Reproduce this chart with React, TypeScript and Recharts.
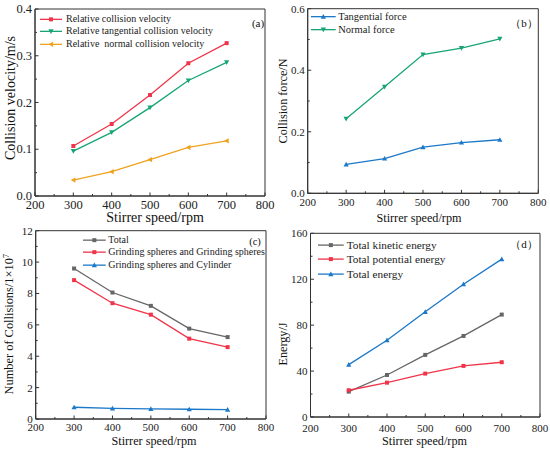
import React from 'react';
import { LineChart, Line, XAxis, YAxis, ReferenceArea, Legend } from 'recharts';

const SPEEDS = [300, 400, 500, 600, 700];
const X_TICKS = [200, 250, 300, 350, 400, 450, 500, 550, 600, 650, 700, 750, 800];
const X_MAJOR = [200, 300, 400, 500, 600, 700, 800];

// (a) collision velocity, m/s
const relVelocity = [0.107, 0.154, 0.216, 0.284, 0.327];
const relTangentialVelocity = [0.096, 0.136, 0.189, 0.247, 0.286];
const relNormalVelocity = [0.034, 0.052, 0.078, 0.104, 0.118];
const A_Y_TICKS = [0, 0.05, 0.1, 0.15, 0.2, 0.25, 0.3, 0.35, 0.4];
const A_Y_MAJOR = [0, 0.1, 0.2, 0.3, 0.4];

// (b) collision force, N
const tangentialForce = [0.094, 0.113, 0.15, 0.165, 0.174];
const normalForce = [0.242, 0.346, 0.451, 0.472, 0.502];
const B_Y_TICKS = [0, 0.1, 0.2, 0.3, 0.4, 0.5, 0.6];
const B_Y_MAJOR = [0, 0.2, 0.4, 0.6];

// (c) number of collisions, x1e7
const totalCollisions = [9.59, 8.06, 7.21, 5.76, 5.22];
const sphereSphere = [8.85, 7.38, 6.65, 5.12, 4.58];
const sphereCylinder = [0.75, 0.68, 0.64, 0.62, 0.6];
const C_Y_TICKS = [0, 1, 2, 3, 4, 5, 6, 7, 8, 9, 10, 11, 12];
const C_Y_MAJOR = [0, 2, 4, 6, 8, 10, 12];

// (d) energy, J
const kineticEnergy = [22.1, 36.6, 54.1, 70.6, 89.2];
const potentialEnergy = [23.3, 29.9, 37.8, 44.5, 47.7];
const totalEnergy = [45.6, 66.9, 91.6, 115.7, 137.5];
const D_Y_TICKS = [0, 20, 40, 60, 80, 100, 120, 140, 160];
const D_Y_MAJOR = [0, 40, 80, 120, 160];

const RED = '#f0344a';
const GREEN = '#17a673';
const ORANGE = '#f0a21e';
const BLUE = '#1c78c8';
const GRAY = '#666666';
const INK = '#333';
const TICK_MARGIN = 4;
const W = 275;
const H = 226;

type Shape = 'square' | 'up' | 'down' | 'left';
interface Series { key: string; name: string; color: string; shape: Shape; values: number[] }

function Marker({ cx, cy, shape, color }: { cx: number; cy: number; shape: Shape; color: string }) {
  if (cx == null || cy == null) return null;
  const r = 2.6;
  if (shape === 'square') return <rect x={cx - 2} y={cy - 2} width={4} height={4} fill={color} />;
  let pts = '';
  if (shape === 'up') pts = `${cx},${cy - r} ${cx - r},${cy + r * 0.8} ${cx + r},${cy + r * 0.8}`;
  if (shape === 'down') pts = `${cx},${cy + r} ${cx - r},${cy - r * 0.8} ${cx + r},${cy - r * 0.8}`;
  if (shape === 'left') pts = `${cx - r},${cy} ${cx + r * 0.8},${cy - r} ${cx + r * 0.8},${cy + r}`;
  return <polygon points={pts} fill={color} />;
}

function XTick({ x, y, payload, fs, gap }: any) {
  const v = payload.value;
  const axisY = y - TICK_MARGIN;
  const major = X_MAJOR.includes(v);
  return (
    <g>
      <line x1={x} x2={x} y1={axisY} y2={axisY - (major ? 3.5 : 2)} stroke={INK} />
      {major && (
        <text x={x} y={axisY + gap} textAnchor="middle" dominantBaseline="central" fontSize={fs} fill="#222">
          {v}
        </text>
      )}
    </g>
  );
}

function YTick({ x, y, payload, fs, major, fmt }: any) {
  const v = payload.value;
  const axisX = x + TICK_MARGIN;
  const isMajor = major.includes(v);
  return (
    <g>
      <line x1={axisX} x2={axisX + (isMajor ? 3.5 : 2)} y1={y} y2={y} stroke={INK} />
      {isMajor && (
        <text x={axisX - 3} y={y} textAnchor="end" dominantBaseline="central" fontSize={fs} fill="#222">
          {fmt(v)}
        </text>
      )}
    </g>
  );
}

function LegendBox({ series, fs, rowH, lineLen, gap }: any) {
  return (
    <div style={{ fontSize: fs, color: '#222', lineHeight: `${rowH}px` }}>
      {series.map((s: Series) => (
        <div key={s.key} style={{ display: 'flex', alignItems: 'center', height: rowH, whiteSpace: 'pre' }}>
          <svg width={lineLen} height={rowH} style={{ display: 'block' }}>
            <line x1={0} x2={lineLen} y1={rowH / 2} y2={rowH / 2} stroke={s.color} strokeWidth={1.3} />
            <Marker cx={lineLen / 2} cy={rowH / 2} shape={s.shape} color={s.color} />
          </svg>
          <span style={{ marginLeft: gap }}>{s.name}</span>
        </div>
      ))}
    </div>
  );
}

interface PanelProps {
  left: number;
  top: number;
  series: Series[];
  yMax: number;
  yTicks: number[];
  yMajor: number[];
  fmt: (v: number) => string;
  plot: { l: number; r: number; t: number; b: number };
  tickFs: number;
  xGap: number;
  titleFs: number;
  yTitleFs?: number;
  xTitle: { x: number; y: number };
  yTitle: { x: number; y: number; text: React.ReactNode };
  legend: { x: number; y: number; fs: number; rowH: number; lineLen: number; gap: number };
  tag: { text: string; x: number; y: number; fs: number };
}

function Panel(p: PanelProps) {
  const rows = SPEEDS.map((s, i) => {
    const r: Record<string, number> = { speed: s };
    p.series.forEach((ser) => (r[ser.key] = ser.values[i]));
    return r;
  });
  return (
    <div style={{ position: 'absolute', left: p.left, top: p.top, width: W, height: H }}>
      <LineChart width={W} height={H} data={rows} margin={{ top: p.plot.t, right: W - p.plot.r, bottom: 0, left: 0 }}>
        <ReferenceArea x1={200} x2={800} y1={0} y2={p.yMax} fill="none" stroke={INK} strokeWidth={1} ifOverflow="visible" />
        <XAxis
          type="number"
          dataKey="speed"
          domain={[200, 800]}
          ticks={X_TICKS}
          interval={0}
          tickSize={0}
          tickLine={false}
          tickMargin={TICK_MARGIN}
          height={H - p.plot.b}
          axisLine={{ stroke: INK }}
          tick={(t: any) => <XTick {...t} fs={p.tickFs} gap={p.xGap} />}
        />
        <YAxis
          type="number"
          domain={[0, p.yMax]}
          ticks={p.yTicks}
          interval={0}
          tickSize={0}
          tickLine={false}
          tickMargin={TICK_MARGIN}
          width={p.plot.l}
          axisLine={{ stroke: INK }}
          tick={(t: any) => <YTick {...t} fs={p.tickFs} major={p.yMajor} fmt={p.fmt} />}
        />
        <Legend
          layout="vertical"
          align="center"
          verticalAlign="middle"
          wrapperStyle={{ left: p.legend.x, top: p.legend.y, width: 'auto', height: 'auto' }}
          content={() => (
            <LegendBox series={p.series} fs={p.legend.fs} rowH={p.legend.rowH} lineLen={p.legend.lineLen} gap={p.legend.gap} />
          )}
        />
        {p.series.map((s) => (
          <Line
            key={s.key}
            type="linear"
            dataKey={s.key}
            name={s.name}
            stroke={s.color}
            strokeWidth={1.3}
            dot={(d: any) => <Marker key={`${s.key}-${d.index}`} cx={d.cx} cy={d.cy} shape={s.shape} color={s.color} />}
            activeDot={false}
            isAnimationActive={false}
          />
        ))}
      </LineChart>
      {/* axis titles and panel tag */}
      <svg width={W} height={H} style={{ position: 'absolute', left: 0, top: 0, pointerEvents: 'none', overflow: 'visible' }}>
        <text x={p.xTitle.x} y={p.xTitle.y} textAnchor="middle" dominantBaseline="central" fontSize={p.titleFs} fill="#111">
          Stirrer speed/rpm
        </text>
        <text
          x={p.yTitle.x}
          y={p.yTitle.y}
          transform={`rotate(-90 ${p.yTitle.x} ${p.yTitle.y})`}
          textAnchor="middle"
          dominantBaseline="central"
          fontSize={p.yTitleFs ?? p.titleFs}
          fill="#111"
        >
          {p.yTitle.text}
        </text>
        <text x={p.tag.x} y={p.tag.y} textAnchor="middle" dominantBaseline="central" fontSize={p.tag.fs} fill="#111">
          {p.tag.text}
        </text>
      </svg>
    </div>
  );
}

const seriesA: Series[] = [
  { key: 'rv', name: 'Relative collision velocity', color: RED, shape: 'square', values: relVelocity },
  { key: 'rtv', name: 'Relative tangential collision velocity', color: GREEN, shape: 'down', values: relTangentialVelocity },
  { key: 'rnv', name: 'Relative  normal collision velocity', color: ORANGE, shape: 'left', values: relNormalVelocity },
];
const seriesB: Series[] = [
  { key: 'tf', name: 'Tangential force', color: BLUE, shape: 'up', values: tangentialForce },
  { key: 'nf', name: 'Normal force', color: GREEN, shape: 'down', values: normalForce },
];
const seriesC: Series[] = [
  { key: 'tot', name: 'Total', color: GRAY, shape: 'square', values: totalCollisions },
  { key: 'ss', name: 'Grinding spheres and Grinding spheres', color: RED, shape: 'square', values: sphereSphere },
  { key: 'sc', name: 'Grinding spheres and Cylinder', color: BLUE, shape: 'up', values: sphereCylinder },
];
const seriesD: Series[] = [
  { key: 'ke', name: 'Total kinetic energy', color: GRAY, shape: 'square', values: kineticEnergy },
  { key: 'pe', name: 'Total potential energy', color: RED, shape: 'square', values: potentialEnergy },
  { key: 'te', name: 'Total energy', color: BLUE, shape: 'up', values: totalEnergy },
];

export default function App() {
  return (
    <div
      style={{
        position: 'absolute',
        left: 0,
        top: 0,
        width: 550,
        height: 452,
        background: '#fff',
        fontFamily: '"Liberation Serif", "Times New Roman", serif',
      }}
    >
      <Panel
        left={0}
        top={0}
        series={seriesA}
        yMax={0.4}
        yTicks={A_Y_TICKS}
        yMajor={A_Y_MAJOR}
        fmt={(v) => v.toFixed(1)}
        plot={{ l: 35, r: 265, t: 9, b: 196 }}
        tickFs={12.5}
        xGap={9}
        titleFs={14}
        xTitle={{ x: 155, y: 217.5 }}
        yTitle={{ x: 10, y: 98, text: 'Collision velocity/m/s' }}
        legend={{ x: 40, y: 12.7, fs: 10, rowH: 12.7, lineLen: 22, gap: 4 }}
        tag={{ text: '(a)', x: 258, y: 23, fs: 11 }}
      />
      <Panel
        left={275}
        top={0}
        series={seriesB}
        yMax={0.6}
        yTicks={B_Y_TICKS}
        yMajor={B_Y_MAJOR}
        fmt={(v) => v.toFixed(1)}
        plot={{ l: 32.7, r: 263.3, t: 8.7, b: 193.3 }}
        tickFs={11}
        xGap={8.4}
        titleFs={12.2}
        xTitle={{ x: 144, y: 218 }}
        yTitle={{ x: 8.3, y: 101, text: 'Collision force/N' }}
        legend={{ x: 36, y: 10, fs: 10.5, rowH: 13.3, lineLen: 24.7, gap: 2.6 }}
        tag={{ text: '（b）', x: 249, y: 23.3, fs: 11 }}
      />
      <Panel
        left={0}
        top={226}
        series={seriesC}
        yMax={12}
        yTicks={C_Y_TICKS}
        yMajor={C_Y_MAJOR}
        fmt={(v) => String(v)}
        plot={{ l: 35.7, r: 266, t: 4.7, b: 193 }}
        tickFs={11}
        xGap={8.4}
        titleFs={12.2}
        yTitleFs={12.4}
        xTitle={{ x: 154, y: 215 }}
        yTitle={{
          x: 9.3,
          y: 98.3,
          text: (
            <>
              <tspan>Number of Collisions/1×10</tspan>
              <tspan dy="-0.45em" fontSize="0.65em">7</tspan>
            </>
          ),
        }}
        legend={{ x: 83.3, y: 8.2, fs: 10, rowH: 12.3, lineLen: 22.7, gap: 2.3 }}
        tag={{ text: '(c)', x: 255, y: 15, fs: 10.5 }}
      />
      <Panel
        left={275}
        top={226}
        series={seriesD}
        yMax={160}
        yTicks={D_Y_TICKS}
        yMajor={D_Y_MAJOR}
        fmt={(v) => String(v)}
        plot={{ l: 35.5, r: 265, t: 7.3, b: 191 }}
        tickFs={11}
        xGap={10.7}
        titleFs={12.2}
        xTitle={{ x: 149.5, y: 215 }}
        yTitle={{ x: 8.3, y: 118, text: 'Energy/J' }}
        legend={{ x: 43.3, y: 12.2, fs: 11.3, rowH: 14.2, lineLen: 25.7, gap: 2.7 }}
        tag={{ text: '（d）', x: 249, y: 18.3, fs: 11 }}
      />
    </div>
  );
}
